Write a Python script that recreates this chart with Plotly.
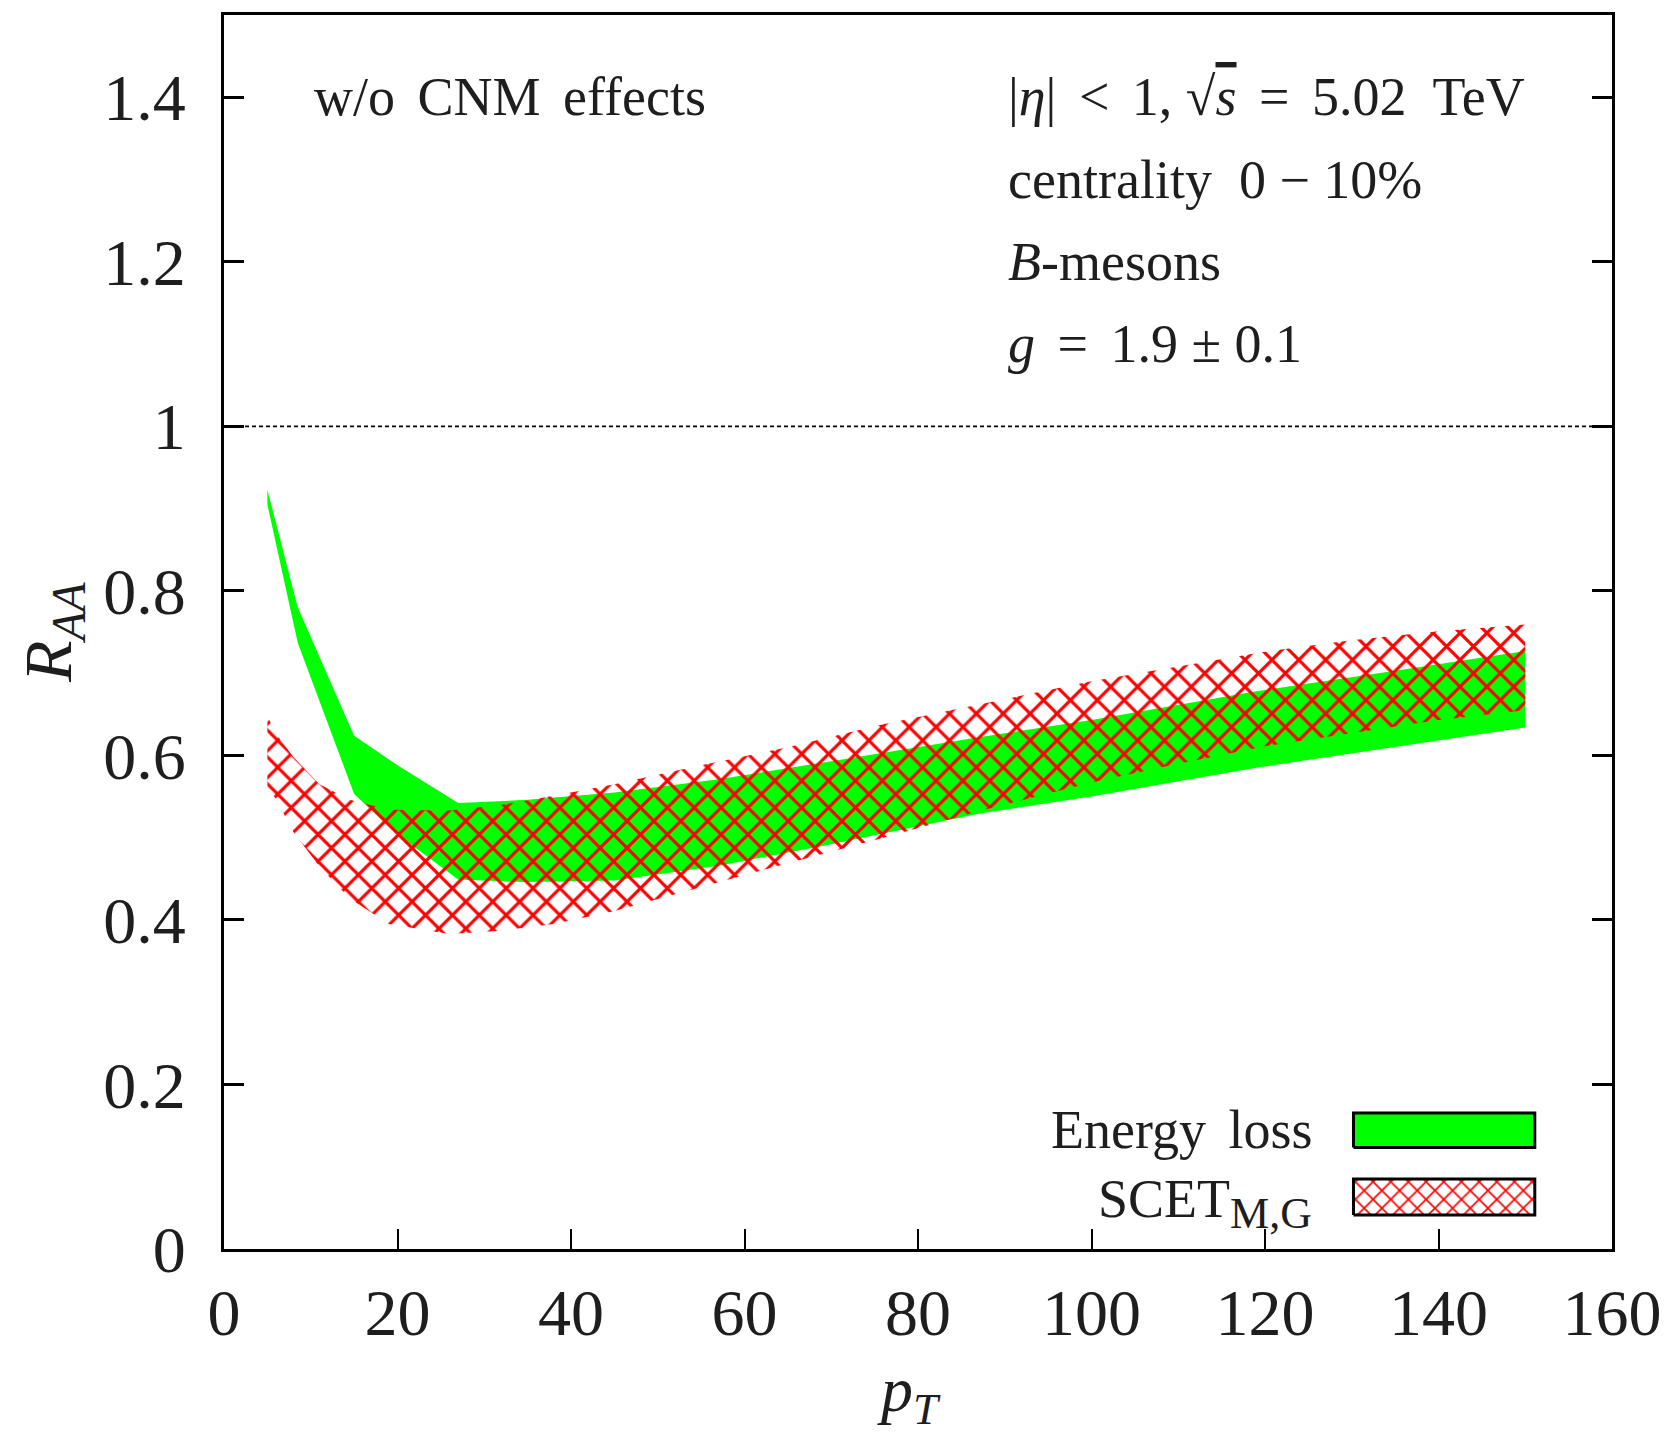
import plotly.graph_objects as go

# ---------------- data ----------------
# Energy loss band (green)
el_pt = [5, 8.5, 15, 20, 27, 35, 45, 57, 70, 87, 100, 119, 135, 150]
el_hi = [0.923, 0.780, 0.624, 0.588, 0.542, 0.546, 0.555, 0.571, 0.593, 0.622, 0.643, 0.678, 0.703, 0.727]
el_lo = [0.905, 0.737, 0.553, 0.504, 0.449, 0.446, 0.448, 0.466, 0.492, 0.529, 0.550, 0.585, 0.610, 0.634]

# SCET_M,G band (red cross-hatched)
scet_pt = [5, 6, 8, 11, 14.5, 19, 26, 32, 38, 45, 55, 65, 76, 87, 100, 110, 120, 130, 140, 150]
scet_hi = [0.648, 0.626, 0.598, 0.565, 0.546, 0.534, 0.533, 0.540, 0.551, 0.565, 0.588, 0.610,
           0.638, 0.662, 0.690, 0.708, 0.726, 0.740, 0.751, 0.759]
scet_lo = [0.561, 0.547, 0.507, 0.465, 0.426, 0.395, 0.383, 0.387, 0.395, 0.411, 0.440, 0.469,
           0.500, 0.532, 0.567, 0.590, 0.611, 0.627, 0.643, 0.655]

x_ticks = [0, 20, 40, 60, 80, 100, 120, 140, 160]
y_ticks = [0, 0.2, 0.4, 0.6, 0.8, 1.0, 1.2, 1.4]
y_ticktext = ["0", "0.2", "0.4", "0.6", "0.8", "1", "1.2", "1.4"]

series_names = ["Energy\u2006 loss",
                "SCET<sub><span style='font-size:44px'>M,G</span></sub>"]

# ---------------- styling / layout constants ----------------
FONT = "Liberation Serif"
TXT = "#1e1e1e"
GREEN = "#00ff00"
RED = "#ff0000"
SP = "\u2006"  # small extra space (math spacing)

# legend swatch geometry (data coords)
LEG_X = (130.2, 151.1)
LEG_Y = [(0.1234, 0.1654), (0.0413, 0.0850)]
LEG_TEXT_X = 125.6

fig = go.Figure()

# green band
fig.add_trace(go.Scatter(
    x=el_pt + el_pt[::-1], y=el_hi + el_lo[::-1],
    fill="toself", fillcolor=GREEN, mode="lines",
    line=dict(width=0, color=GREEN), hoverinfo="skip", showlegend=False))

# red hatched band
fig.add_trace(go.Scatter(
    x=scet_pt + scet_pt[::-1], y=scet_hi + scet_lo[::-1],
    fill="toself", fillcolor="rgba(0,0,0,0)", mode="lines",
    fillpattern=dict(shape="x", fgcolor=RED, bgcolor="rgba(0,0,0,0)",
                     size=19, solidity=0.3, fillmode="replace"),
    line=dict(width=0, color="rgba(0,0,0,0)"), hoverinfo="skip", showlegend=False))

# legend swatches
def box(xr, yr):
    return [xr[0], xr[1], xr[1], xr[0], xr[0]], [yr[0], yr[0], yr[1], yr[1], yr[0]]

bx, by = box(LEG_X, LEG_Y[0])
fig.add_trace(go.Scatter(x=bx, y=by, fill="toself", fillcolor=GREEN, mode="lines",
                         line=dict(width=3, color="black"), hoverinfo="skip", showlegend=False))
bx, by = box(LEG_X, LEG_Y[1])
fig.add_trace(go.Scatter(x=bx, y=by, fill="toself", fillcolor="rgba(0,0,0,0)", mode="lines",
                         fillpattern=dict(shape="x", fgcolor=RED, bgcolor="white",
                                          size=12.5, solidity=0.25, fillmode="replace"),
                         line=dict(width=3, color="black"), hoverinfo="skip", showlegend=False))

annotations = []
for name, yr, ysh in zip(series_names, LEG_Y, [0, -6]):
    annotations.append(dict(x=LEG_TEXT_X, y=(yr[0] + yr[1]) / 2, xref="x", yref="y",
                            text=name, showarrow=False, xanchor="right", yanchor="middle",
                            yshift=ysh, font=dict(family=FONT, size=54, color=TXT)))

info_lines = [
    f"|<i>η</i>|{SP} &lt; {SP}1, √<span style='text-decoration:overline'><i>s</i></span>{SP} = {SP}5.02  TeV",
    "centrality  0 − 10%",
    "<i>B</i>-mesons",
    f"<i>g</i>{SP} = {SP}1.9 ± 0.1",
]
info_y = [1.4, 1.3, 1.2, 1.1]
for t, yv in zip(info_lines, info_y):
    annotations.append(dict(x=90.2, y=yv, xref="x", yref="y", text=t, showarrow=False,
                            xanchor="left", yanchor="middle",
                            font=dict(family=FONT, size=54, color=TXT)))
annotations.append(dict(x=10.1, y=1.4, xref="x", yref="y", text=f"w/o {SP}CNM {SP}effects",
                        showarrow=False, xanchor="left", yanchor="middle",
                        font=dict(family=FONT, size=54, color=TXT)))

# axis titles
annotations.append(dict(x=0, y=0.5, xref="paper", yref="paper", xshift=-172,
                        text="<i>R</i><sub><i>AA</i></sub>", textangle=-90, showarrow=False,
                        xanchor="center", yanchor="middle",
                        font=dict(family=FONT, size=68, color=TXT)))
annotations.append(dict(x=0.4935, y=0, xref="paper", yref="paper", yshift=-145,
                        text="<i>p</i><sub><i>T</i></sub>", showarrow=False,
                        xanchor="center", yanchor="middle",
                        font=dict(family=FONT, size=64, color=TXT)))

fig.add_shape(type="line", xref="x", yref="y", x0=0, x1=160, y0=1, y1=1,
              line=dict(color="black", width=1.6, dash="4px,3px"))

fig.update_layout(
    width=1674, height=1437,
    margin=dict(l=224, r=58, t=13, b=188),
    paper_bgcolor="white", plot_bgcolor="white",
    showlegend=False,
    annotations=annotations,
    xaxis=dict(range=[0, 160], tickvals=x_ticks, ticktext=[str(v) for v in x_ticks],
               ticks="inside", ticklen=20, tickwidth=1.5, tickcolor="black",
               showline=True, linewidth=3, linecolor="black", mirror=True,
               showgrid=False, zeroline=False, ticklabelstandoff=4,
               tickfont=dict(family=FONT, size=66, color=TXT)),
    yaxis=dict(range=[0, 1.5], tickvals=y_ticks, ticktext=y_ticktext,
               ticks="inside", ticklen=20, tickwidth=3, tickcolor="black",
               showline=True, linewidth=3, linecolor="black", mirror="ticks",
               showgrid=False, zeroline=False, ticklabelstandoff=22,
               tickfont=dict(family=FONT, size=66, color=TXT)),
)

fig.write_html("out.html")
